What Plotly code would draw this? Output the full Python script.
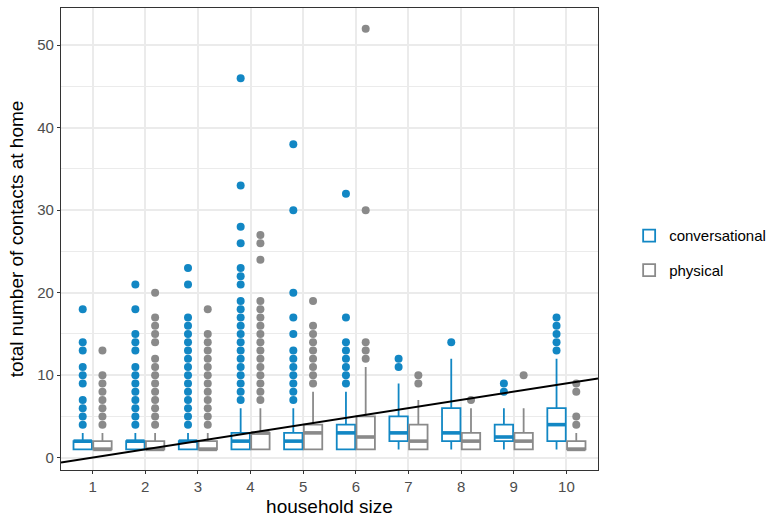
import plotly.graph_objects as go

# ---------------- data ----------------
household_size = [1, 2, 3, 4, 5, 6, 7, 8, 9, 10]

conv_q1 = [1, 1, 1, 1, 1, 1, 2, 2, 2, 2]
conv_median = [2, 2, 2, 2, 2, 3, 3, 3, 2.5, 4]
conv_q3 = [2, 2, 2, 3, 3, 4, 5, 6, 4, 6]
conv_lower = [1, 1, 1, 1, 1, 1, 1, 1, 1, 1]
conv_upper = [3, 3, 3, 6, 6, 8, 9, 12, 6, 12]
conv_outliers = [
    [4, 5, 6, 7, 9, 10, 11, 13, 14, 18],
    [4, 5, 6, 7, 8, 9, 10, 11, 13, 14, 15, 18, 21],
    [4, 5, 6, 7, 8, 9, 10, 11, 12, 13, 14, 15, 16, 17, 21, 23],
    [7, 8, 9, 10, 11, 12, 13, 14, 15, 16, 17, 18, 19, 21, 22, 23, 26, 28, 33, 46],
    [7, 8, 9, 10, 11, 12, 13, 15, 17, 20, 30, 38],
    [9, 10, 11, 12, 13, 14, 17, 32],
    [11, 12],
    [14],
    [8, 9],
    [13, 14, 15, 16, 17],
]

phys_q1 = [1, 1, 1, 1, 1, 1, 1, 1, 1, 1]
phys_median = [1, 1, 1, 3, 3, 2.5, 2, 2, 2, 1]
phys_q3 = [2, 2, 2, 3, 4, 5, 4, 3, 3, 2]
phys_lower = [1, 1, 1, 1, 1, 1, 1, 1, 1, 1]
phys_upper = [3, 3, 3, 6, 8, 11, 7, 6, 6, 3]
phys_outliers = [
    [4, 5, 6, 7, 8, 9, 10, 13],
    [4, 5, 6, 7, 8, 9, 10, 11, 12, 14, 15, 16, 17, 20],
    [4, 5, 6, 7, 8, 9, 10, 11, 12, 13, 14, 15, 18],
    [7, 8, 9, 10, 11, 12, 13, 14, 15, 16, 17, 18, 19, 24, 26, 27],
    [9, 10, 11, 12, 13, 14, 15, 16, 19],
    [12, 13, 14, 30, 52],
    [9, 10],
    [7],
    [10],
    [4, 5, 8, 9],
]

line_intercept = -1
line_slope = 1

# ---------------- style ----------------
BLUE = "#1287C4"
GREY = "#8A8A8A"
DODGE = 0.1875
BOX_W = 0.35
X_RANGE = [0.4, 10.6]
Y_RANGE = [-1.5, 54.5]
FONT = "Liberation Sans, Arial, sans-serif"

fig = go.Figure()

series = [
    ("conversational", BLUE, -1, conv_q1, conv_median, conv_q3, conv_lower, conv_upper, conv_outliers),
    ("physical", GREY, 1, phys_q1, phys_median, phys_q3, phys_lower, phys_upper, phys_outliers),
]

for name, color, sign, q1, med, q3, lo, hi, outl in series:
    xs = [h + sign * DODGE for h in household_size]
    ox, oy = [], []
    for x, vals in zip(xs, outl):
        for v in vals:
            ox.append(x)
            oy.append(v)
    fig.add_trace(go.Scatter(
        x=ox, y=oy, mode="markers",
        marker=dict(color=color, size=8, line=dict(width=0)),
        showlegend=False, hoverinfo="y", legendgroup=name,
    ))
    fig.add_trace(go.Box(
        x=xs, q1=q1, median=med, q3=q3, lowerfence=lo, upperfence=hi,
        width=BOX_W, name=name, legendgroup=name,
        line=dict(color=color, width=1.8), fillcolor="white",
        marker=dict(color=color), boxpoints=False, whiskerwidth=0,
    ))
    mx, my = [], []
    for x, m in zip(xs, med):
        mx += [x - BOX_W / 2, x + BOX_W / 2, None]
        my += [m, m, None]
    fig.add_trace(go.Scatter(
        x=mx, y=my, mode="lines", line=dict(color=color, width=3.6),
        showlegend=False, hoverinfo="skip", legendgroup=name,
    ))

# reference line y = x - 1
fig.add_trace(go.Scatter(
    x=X_RANGE, y=[line_intercept + line_slope * x for x in X_RANGE],
    mode="lines", line=dict(color="black", width=1.9),
    showlegend=False, hoverinfo="skip",
))

fig.update_layout(
    width=774, height=517,
    margin=dict(l=61, r=176, t=8, b=47, autoexpand=False),
    paper_bgcolor="white", plot_bgcolor="white",
    font=dict(family=FONT, color="black"),
    boxmode="overlay",
    legend=dict(
        x=1.058, y=0.47, xanchor="left", yanchor="middle",
        font=dict(size=15, color="black"),
        traceorder="grouped", tracegroupgap=12,
        bgcolor="rgba(0,0,0,0)",
    ),
    xaxis=dict(
        range=X_RANGE, tickmode="array", tickvals=household_size,
        ticktext=[str(h) for h in household_size],
        showgrid=True, gridcolor="#EBEBEB", gridwidth=1.6,
        zeroline=False, showline=True, mirror=True,
        linecolor="#333333", linewidth=1.2,
        ticks="outside", ticklen=3, tickcolor="#333333", tickwidth=1.2,
        tickfont=dict(size=15, color="#4D4D4D"),
        title=dict(text="household size", font=dict(size=19, color="black"), standoff=9),
    ),
    yaxis=dict(
        range=Y_RANGE, tickmode="array", tickvals=[0, 10, 20, 30, 40, 50],
        showgrid=True, gridcolor="#EBEBEB", gridwidth=1.6,
        minor=dict(tickvals=[5, 15, 25, 35, 45], showgrid=True,
                   gridcolor="#EBEBEB", gridwidth=0.8, ticks=""),
        zeroline=False, showline=True, mirror=True,
        linecolor="#333333", linewidth=1.2,
        ticks="outside", ticklen=3, tickcolor="#333333", tickwidth=1.2,
        tickfont=dict(size=15, color="#4D4D4D"),
        title=dict(text="total number of contacts at home", font=dict(size=19, color="black"), standoff=8),
    ),
)

fig.write_html("out.html")
